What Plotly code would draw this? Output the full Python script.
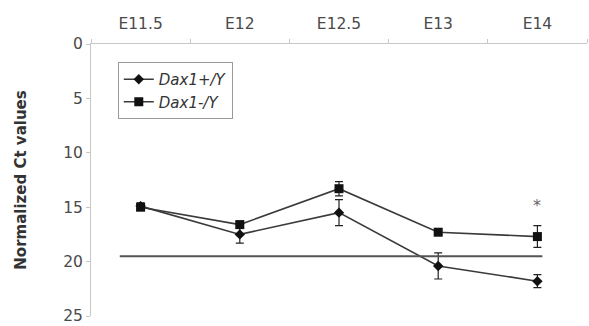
import plotly.graph_objects as go

stages = ["E11.5", "E12", "E12.5", "E13", "E14"]
dax_plus = [14.9, 17.5, 15.5, 20.4, 21.8]
dax_plus_err = [0.3, 0.8, 1.2, 1.2, 0.6]
dax_minus = [15.0, 16.6, 13.3, 17.3, 17.7]
dax_minus_err = [0.3, 0.3, 0.65, 0.2, 1.0]
threshold = 19.5
star_y = 14.8
y_ticks = [0, 5, 10, 15, 20, 25]

font_fam = "DejaVu Sans, Verdana, sans-serif"
line_col = "#3a3a3a"
axis_col = "#c8c8c8"

fig = go.Figure()
fig.add_trace(go.Scatter(
    x=stages, y=dax_plus, name="<i>Dax1+/Y</i>", mode="lines+markers",
    line=dict(color=line_col, width=1.6),
    marker=dict(symbol="diamond", size=8, color="#111111"),
    error_y=dict(type="data", array=dax_plus_err, color="#222222", thickness=1.2, width=4),
))
fig.add_trace(go.Scatter(
    x=stages, y=dax_minus, name="<i>Dax1-/Y</i>", mode="lines+markers",
    line=dict(color=line_col, width=1.6),
    marker=dict(symbol="square", size=9, color="#111111"),
    error_y=dict(type="data", array=dax_minus_err, color="#222222", thickness=1.2, width=4),
))

fig.add_shape(type="line", xref="x", yref="y", x0=-0.21, x1=4.05, y0=threshold, y1=threshold,
              line=dict(color="#555555", width=2))

fig.add_annotation(x=stages[-1], y=star_y, text="*", showarrow=False,
                   font=dict(size=16, color="#666666", family=font_fam))

fig.update_layout(
    width=589, height=326,
    margin=dict(l=91, r=2, t=44, b=10, autoexpand=False),
    paper_bgcolor="white", plot_bgcolor="white",
    font=dict(family=font_fam, color="#4a4a4a", size=15),
    showlegend=True,
    legend=dict(x=0.054, y=0.934, xanchor="left", yanchor="top",
                bordercolor="#999999", borderwidth=1, bgcolor="white",
                font=dict(size=15, color="#333333"), tracegroupgap=0,
                itemwidth=30),
    xaxis=dict(type="category", side="top", showline=True, linecolor=axis_col, linewidth=1,
               ticks="outside", tickson="boundaries", ticklen=4, tickcolor=axis_col,
               showgrid=False, zeroline=False, range=[-0.5, 4.5], ticklabelstandoff=8,
               tickfont=dict(size=15.5, color="#4a4a4a")),
    yaxis=dict(range=[25, 0], tickvals=y_ticks, showline=True, linecolor=axis_col, linewidth=1,
               ticks="outside", ticklen=4, tickcolor=axis_col, showgrid=False, zeroline=False,
               tickfont=dict(size=15.5, color="#4a4a4a"),
               title=dict(text="<b>Normalized Ct values</b>", font=dict(size=15, color="#333333"),
                          standoff=32)),
)

fig.write_html("out.html", config={"displayModeBar": False},
               post_script="document.body.style.margin='0';")
